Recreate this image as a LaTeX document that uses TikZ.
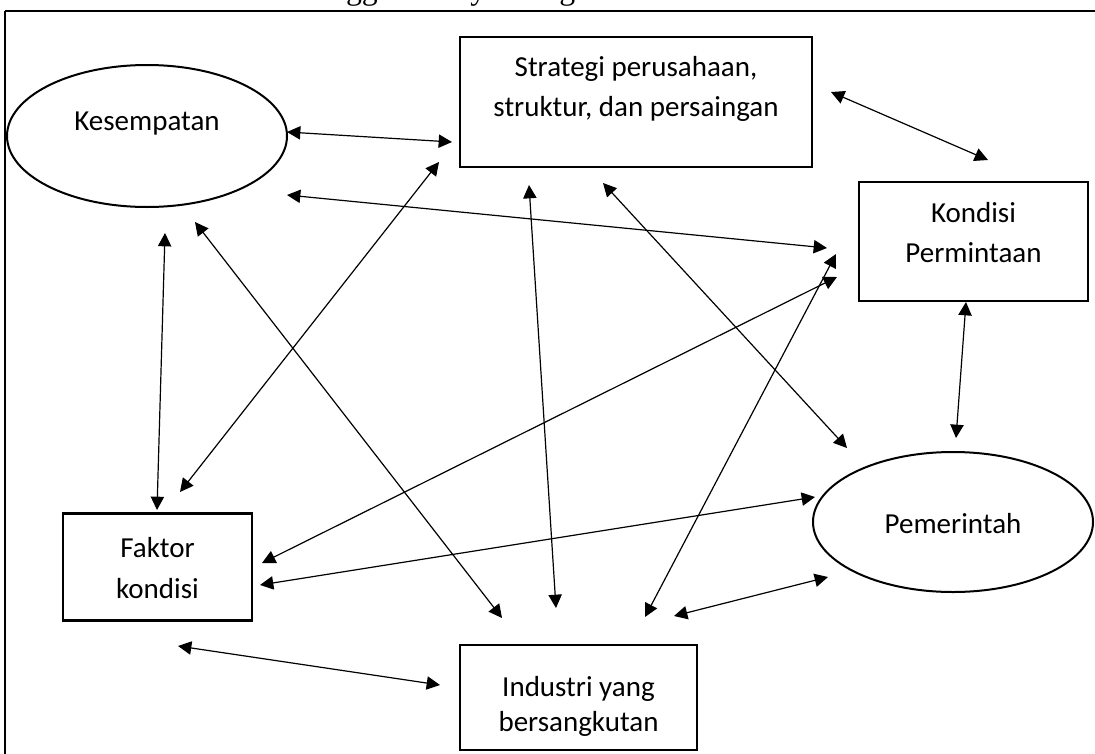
\documentclass[tikz,border=0pt]{standalone}
\usepackage{fontspec}
\setmainfont{Carlito}
\newfontfamily\titlefont{Liberation Serif}
\usetikzlibrary{arrows.meta,shapes.geometric}
\begin{document}
\begin{tikzpicture}[x=0.75pt,y=-0.75pt,
  box/.style={draw,line width=2pt,inner sep=0pt},
  oval/.style={draw,ellipse,line width=1.5pt,inner sep=0pt},
  lbl/.style={font=\fontsize{21.75}{30}\selectfont,inner sep=0pt},
  link/.style={line width=0.9pt,{Triangle[length=10pt,width=10pt]}-{Triangle[length=10pt,width=10pt]}}]
\useasboundingbox (0,0) rectangle (1095,753);
\clip (0,0) rectangle (1095,753);
% title (cut off at the top)
\node[anchor=base west,inner sep=0pt,font=\titlefont\fontsize{23.8}{28}\selectfont] (title) at (277,0) {Keunggulan daya saing Industri Internasional};
% frame
\draw[line width=1.8pt] (1100,11) -- (5,11);
\draw[line width=1.2pt] (5,11) -- (5,760);
% nodes
\node[oval,minimum width=210pt,minimum height=106.5pt] (kes) at (147,136) {};
\node[lbl] (kest) at (147,124) {Kesempatan};
\node[box,minimum width=264pt,minimum height=97.5pt] (str) at (636,102) {};
\node[lbl] (str1) at (636,69) {Strategi perusahaan,};
\node[lbl] (str2) at (636,109) {struktur, dan persaingan};
\node[box,minimum width=171.75pt,minimum height=89.25pt] (kon) at (973.5,241.5) {};
\node[lbl] (kon1) at (973.5,213) {Kondisi};
\node[lbl] (kon2) at (973.5,253) {Permintaan};
\node[oval,minimum width=210pt,minimum height=105pt] (pem) at (953,522) {};
\node[lbl] (pemt) at (953,524) {Pemerintah};
\node[box,minimum width=141.75pt,minimum height=80pt] (fak) at (157.5,567) {};
\node[lbl] (fak1) at (157.5,548) {Faktor};
\node[lbl] (fak2) at (157.5,589) {kondisi};
\node[box,minimum width=177.75pt,minimum height=78.75pt] (ind) at (578.5,697.5) {};
\node[lbl] (ind1) at (578.5,689) {Industri yang};
\node[lbl] (ind2) at (578.5,724) {bersangkutan};
% arrow end points
\coordinate (ka) at (287,132);  \coordinate (sa) at (452,142);
\coordinate (kb) at (287,195);  \coordinate (pa) at (827,248);
\coordinate (kc) at (165,233);  \coordinate (fa) at (157,510);
\coordinate (kd) at (195,222);  \coordinate (ia) at (502,618);
\coordinate (sb) at (439,162);  \coordinate (fb) at (180,492);
\coordinate (sc) at (529,185);  \coordinate (ib) at (556,608);
\coordinate (sd) at (603,183);  \coordinate (ma) at (847,448);
\coordinate (se) at (831,92);   \coordinate (pb) at (988,160);
\coordinate (pc) at (966,302);  \coordinate (mb) at (956,438);
\coordinate (pd) at (837,277);  \coordinate (fc) at (262,563);
\coordinate (pe) at (836,254);  \coordinate (ic) at (645,617);
\coordinate (mc) at (815,497);  \coordinate (fd) at (260,585);
\coordinate (md) at (828,577);  \coordinate (id) at (674,616);
\coordinate (fe) at (178,646);  \coordinate (ie) at (440,685);
% connectors
\draw[link] (ka) -- (sa);
\draw[link] (kb) -- (pa);
\draw[link] (kc) -- (fa);
\draw[link] (kd) -- (ia);
\draw[link] (sb) -- (fb);
\draw[link] (sc) -- (ib);
\draw[link] (sd) -- (ma);
\draw[link] (se) -- (pb);
\draw[link] (pc) -- (mb);
\draw[link] (pd) -- (fc);
\draw[link] (pe) -- (ic);
\draw[link] (mc) -- (fd);
\draw[link] (md) -- (id);
\draw[link] (fe) -- (ie);
\end{tikzpicture}
\end{document}
